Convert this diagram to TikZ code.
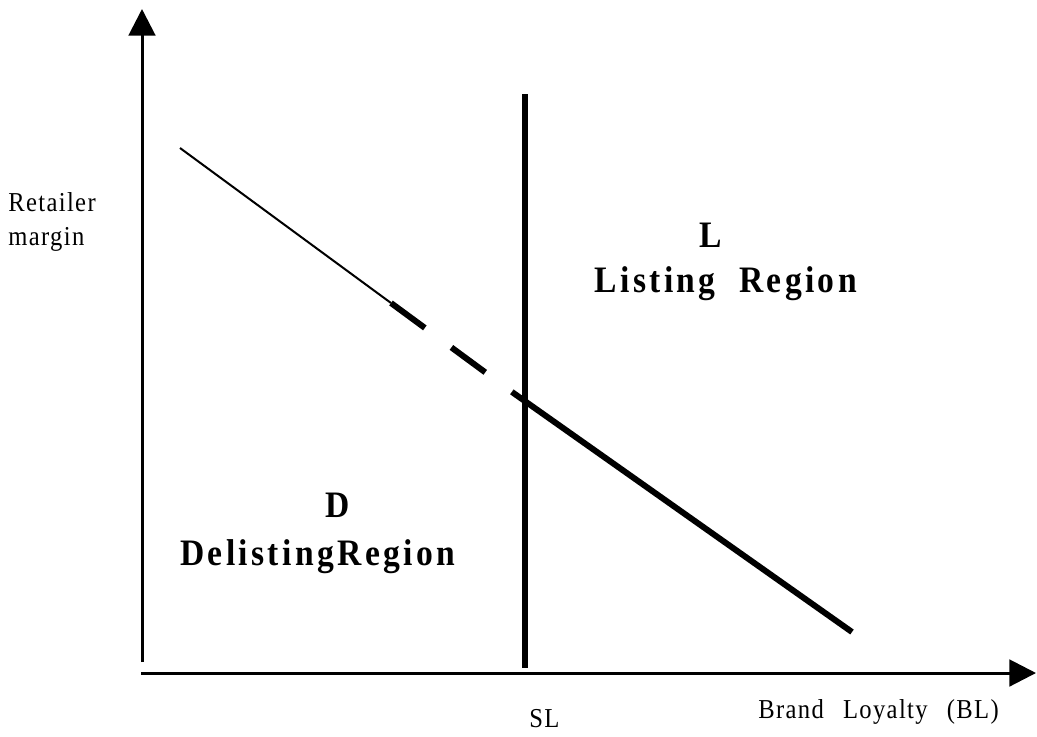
\documentclass[tikz,border=0pt]{standalone}
\usepackage{fontspec}
\setmainfont{Liberation Serif}
\newfontfamily\axisfont[LetterSpace=5,FakeStretch=0.9]{Liberation Serif}
\newfontfamily\regionfont[LetterSpace=9,FakeStretch=0.9]{Liberation Serif}
\usetikzlibrary{arrows.meta}

\tikzset{
  axis/.style={line width=2.25pt, -{Triangle[length=20pt,width=20pt]}},
  axislabel/.style={inner sep=0pt, font=\axisfont\fontsize{20.5}{25}\selectfont, align=left},
  regionlabel/.style={inner sep=0pt, font=\regionfont\bfseries\fontsize{28}{30}\selectfont},
  thickline/.style={line width=4.5pt},
}

\begin{document}
\begin{tikzpicture}[x=0.75pt,y=-0.75pt]
	\useasboundingbox (0,0) rectangle (1037,736);
	
	% axes
	\coordinate (ybot) at (142,662);
	\coordinate (ytop) at (142,9);
	\coordinate (xleft) at (141,673);
	\coordinate (xright) at (1036,673);
	\draw[axis] (ybot) -- (ytop);
	\draw[axis] (xleft) -- (xright);
	
	% SL line
	\coordinate (sltop) at (525,94);
	\coordinate (slbot) at (525,668);
	\draw[thickline] (sltop) -- (slbot);
	
	% margin line
	\coordinate (m0) at (180,148);
	\coordinate (m1) at (391,303);
	\coordinate (m2) at (512,392);
	\coordinate (m3) at (852,632);
	\draw[line width=1.5pt] (m0) -- (m1);
	\draw[thickline, dash pattern=on 31.5pt off 24.75pt] (m1) -- (m2);
	\draw[thickline] (m2) -- (m3);
	
	% labels
	\node[axislabel, anchor=base west] (ret) at (8,245) {Retailer\\margin};
	\node[axislabel, anchor=base west] (bl) at (758,718) {Brand\hspace{0.7em}Loyalty\hspace{0.7em}(BL)};
	\node[axislabel, anchor=base west] (sl) at (529,727) {SL};
	
	\node[regionlabel, anchor=base] (lab) at (711,247) {L};
	\node[regionlabel, anchor=base east] (listing) at (857,292) {Listing \ Region};
	\node[regionlabel, anchor=base] (dab) at (338,517) {D};
	\node[regionlabel, anchor=base west] (delisting) at (180,565) {DelistingRegion};
	
\end{tikzpicture}
\end{document}
